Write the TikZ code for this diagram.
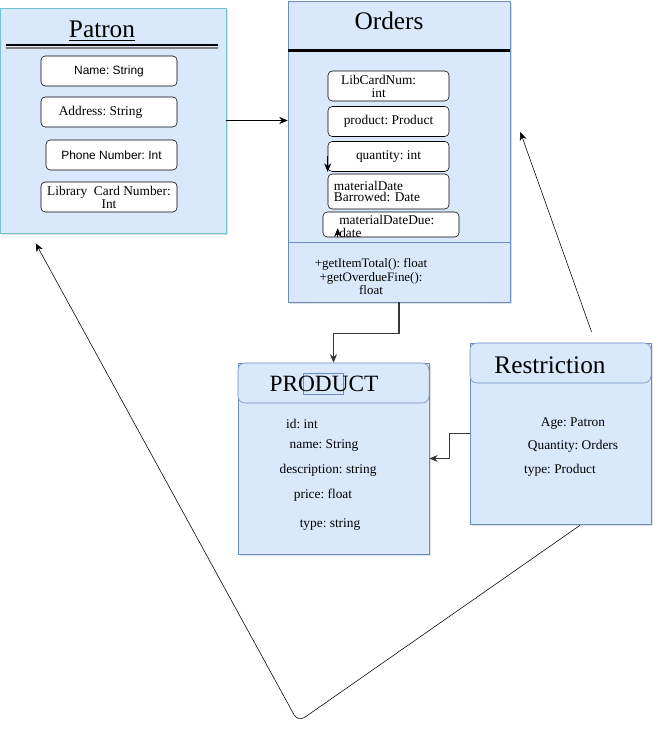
\documentclass[tikz,border=0pt]{standalone}
\usepackage{fontspec}
\setmainfont{Liberation Serif}
\setsansfont{Liberation Sans}
\usetikzlibrary{arrows, arrows.meta, calc, positioning, shadows}
\definecolor{classfill}{RGB}{218,232,252}
\definecolor{classline}{RGB}{108,142,191}
\definecolor{patronline}{RGB}{115,192,206}
\definecolor{linkgray}{RGB}{55,55,55}
\newcommand{\titlefont}{\fontsize{18}{21}\selectfont}
\newcommand{\fieldfont}{\fontsize{9.5}{9.3}\selectfont}
\newcommand{\sansfield}{\sffamily\fontsize{8.5}{10}\selectfont}
\tikzstyle{classbox} = [rectangle, inner sep=0pt, draw=classline, fill=classfill, drop shadow={shadow xshift=1.5pt, shadow yshift=-1.5pt, opacity=0.25}]
\tikzstyle{headbox} = [rectangle, rounded corners=5pt, inner sep=0pt, draw=classline, fill=classfill]
\tikzstyle{fieldbox} = [rectangle, rounded corners=3pt, draw=black, fill=white, text centered, align=center, inner sep=1pt, minimum width=3.4cm, minimum height=0.75cm, font=\fieldfont]
\tikzstyle{arrow} = [->, >={Stealth[length=6pt, width=5pt]}]
\tikzstyle{thickarrow} = [->, >={Stealth[length=6pt, width=5pt]}, line width=1.1pt, draw=linkgray]
\frenchspacing

\begin{document}
\frenchspacing
\begin{tikzpicture}[x=0.025cm, y=-0.025cm]
\useasboundingbox (0,0) rectangle (657,740);

% Patron class
\node (patron) [classbox, draw=patronline, minimum width=5.65cm, minimum height=5.625cm] at (113,120.5) {};
\node (patrontitle) at (102,31) {\titlefont\underline{Patron}};
\draw[line width=1.4pt] (6,45) -- (218,45);
\draw[gray, line width=0.8pt] (6,48) -- (218,48);
\node (name) [fieldbox, font=\sansfield] at (109,71) {Name: String};
\node (address) [fieldbox] at (109,112) {Address: String\hspace*{12pt}};
\node (phone) [fieldbox, font=\sansfield, minimum width=3.275cm] at (111.5,155) {Phone Number: Int};
\node (cardnum) [fieldbox] at (109,197) {Library~ Card Number:\\Int};

% Orders class
\node (orders) [classbox, minimum width=5.55cm, minimum height=7.525cm] at (399,151.5) {};
\node (orderstitle) at (389,21) {\titlefont Orders};
\draw[line width=2.4pt] ($(orders.north west)+(0,50)$) -- ($(orders.north east)+(0,50)$);
\draw[classline] ($(orders.south west)+(0,-60)$) -- ($(orders.south east)+(0,-60)$);
\node (libcard) [fieldbox, minimum width=3.025cm] at (388.5,86) {LibCardNum:\hspace*{14pt}\\int\hspace*{14pt}};
\node (product) [fieldbox, minimum width=3.025cm] at (388.5,121.5) {product: Product};
\node (quantity) [fieldbox, minimum width=3.025cm] at (388.5,156.5) {quantity: int};
\node (borrowed) [fieldbox, minimum width=3.025cm, minimum height=0.875cm, align=left, text width=2.725cm, inner xsep=0.15cm] at (388.5,191.5) {materialDate\\[-1pt]Barrowed: Date};
\node (due) [fieldbox, minimum height=0.625cm] at (391,224.5) {};
\node (duetext) [anchor=north west, inner sep=0pt, align=left, font=\fieldfont] at (339,215) {materialDateDue:\\date};
\node (methods) [align=center, font=\fontsize{9.2}{9.6}\selectfont] at (371,277) {+getItemTotal(): float\\+getOverdueFine():\\float};
\coordinate (duefoot) at ($(due.south west)+(15,0)$);
\coordinate (duetip) at ($(due.south west)+(15,-9)$);
\draw [arrow] (quantity.west) -- (quantity.south west);
\draw [arrow] (duefoot) -- (duetip);

% PRODUCT class
\node (productclass) [classbox, minimum width=4.775cm, minimum height=4.775cm] at (333.5,458.5) {};
\node (producthead) [headbox, minimum width=4.775cm, minimum height=1cm] at (333.5,383) {};
\draw[classline] (303,373) rectangle (343,394);
\node (producttitle) at (324,384) {\fontsize{16.6}{19}\selectfont PRODUCT};
\node (pid) [font=\fieldfont] at (302,424) {id: int};
\node (pname) [font=\fieldfont] at (324,446) {name: String};
\node (pdesc) [font=\fieldfont] at (328,470) {description: string};
\node (pprice) [font=\fieldfont] at (323,495) {price: float};
\node (ptype) [font=\fieldfont] at (330,525) {type: string};

% Restriction class
\node (restriction) [classbox, minimum width=4.525cm, minimum height=4.525cm] at (560.5,433.5) {};
\node (restrictionhead) [headbox, minimum width=4.525cm, minimum height=1cm] at (560.5,363) {};
\node (restrictiontitle) at (550,365) {\titlefont Restriction};
\node (rage) [font=\fieldfont] at (573,424) {Age: Patron};
\node (rquantity) [font=\fieldfont] at (573,446) {Quantity: Orders};
\node (rtype) [font=\fieldfont] at (560,470) {type: Product};

% links
\coordinate (restrictiontail) at ($(restriction.north)+(31,-11)$);
\coordinate (ordershead) at ($(orders.east)+(10,-19.5)$);
\coordinate (restrictionfoot) at ($(restriction.south)+(19.5,1)$);
\coordinate (bottombend) at (298,722);
\coordinate (patronhead) at ($(patron.south west)+(36,10)$);

\draw [arrow] (patron.east) -- (patron.east -| orders.west);
\draw [thickarrow] (orders.south) -- ++(0,31) -| (productclass.north);
\draw [thickarrow] (restriction.west) -- ++(-20,0) |- (productclass.east);
\draw [arrow] (restrictiontail) -- (ordershead);
\draw [arrow, rounded corners=6pt] (restrictionfoot) -- (bottombend) -- (patronhead);

\end{tikzpicture}
\end{document}
